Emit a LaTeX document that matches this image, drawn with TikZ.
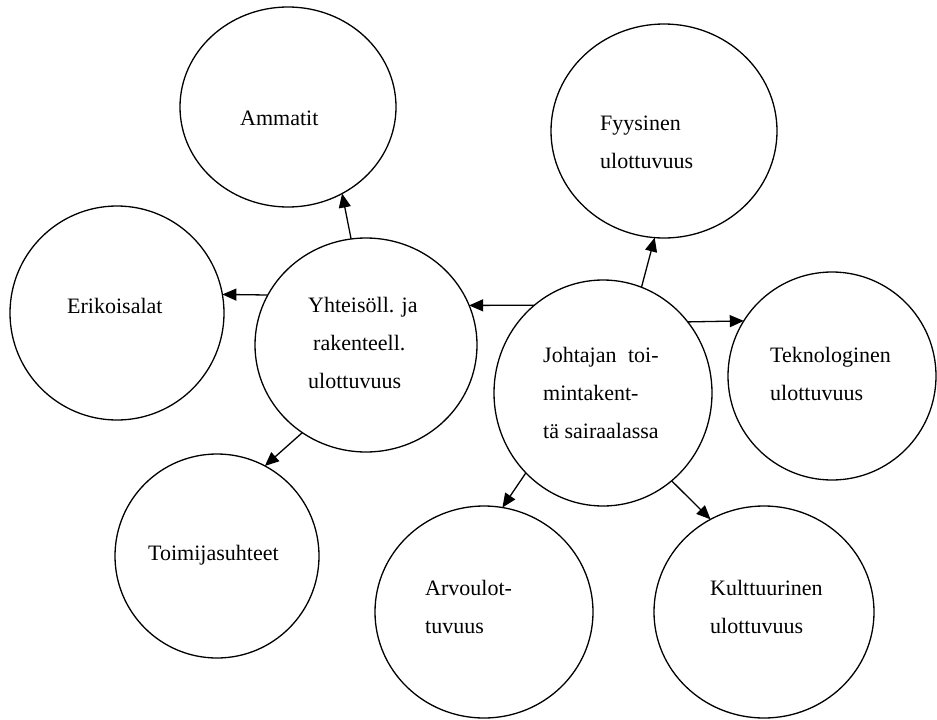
\documentclass[tikz,border=0pt]{standalone}
\usepackage{fontspec}
\setmainfont{Liberation Serif}
\usepackage{calc}
\usetikzlibrary{shapes.geometric,arrows.meta}

\begin{document}
\begin{tikzpicture}[x=1pt,y=-1pt,
  bubble/.style={ellipse,draw,line width=1.3pt,inner sep=0pt,outer sep=0pt},
  % multi-line labels are placed by the baseline of their last line
  lbl/.style={anchor=base west,align=left,inner sep=0pt,
              font=\fontsize{22}{38}\selectfont},
  link/.style={line width=1.3pt,-{Triangle[length=14pt,width=12pt]}}]

\useasboundingbox (0,0) rectangle (937,720);

% dimension bubbles
\node[bubble,minimum width=216pt,minimum height=200pt] (amm) at (288,107) {};
\node[bubble,minimum width=214pt,minimum height=214pt] (eri) at (117,313) {};
\node[bubble,minimum width=222pt,minimum height=214pt] (yht) at (366,345) {};
\node[bubble,minimum width=204pt,minimum height=204pt] (toi) at (217,556) {};
\node[bubble,minimum width=226pt,minimum height=214pt] (fyy) at (664,131) {};
\node[bubble,minimum width=218pt,minimum height=226pt] (joh) at (603,393) {};
\node[bubble,minimum width=208pt,minimum height=208pt] (tek) at (832,376) {};
\node[bubble,minimum width=218pt,minimum height=212pt] (arv) at (484,612) {};
\node[bubble,minimum width=220pt,minimum height=212pt] (kul) at (764,612) {};

% texts
\node[lbl] (tamm) at (240,125) {Ammatit};
\node[lbl] (teri) at (67,313) {Erikoisalat};
\node[lbl] (tyht) at (308,388) {Yhteisöll. ja\\\hspace*{5pt}rakenteell.\\ulottuvuus};
\node[lbl] (ttoi) at (148,560) {Toimijasuhteet};
\node[lbl] (tfyy) at (600,168) {Fyysinen\\ulottuvuus};
\node[lbl] (tjoh) at (543,438) {\makebox[\widthof{tä sairaalassa}][s]{Johtajan toi-}\\mintakent-\\tä sairaalassa};
\node[lbl] (ttek) at (770,400) {Teknologinen\\ulottuvuus};
\node[lbl] (tarv) at (425,633) {Arvoulot-\\tuvuus};
\node[lbl] (tkul) at (710,633) {Kulttuurinen\\ulottuvuus};

% connectors
\draw[link] (yht.98)  -- (amm.302);
\draw[link] (yht.153) -- (eri.10);
\draw[link] (yht.234) -- (toi.62);
\draw[link] (joh.128) -- (yht.21);
\draw[link] (joh.70)  -- (fyy.265);
\draw[link] (joh.40)  -- (tek.148);
\draw[link] (joh.226) -- (arv.80);
\draw[link] (joh.308) -- (kul.120);
\end{tikzpicture}
\end{document}
